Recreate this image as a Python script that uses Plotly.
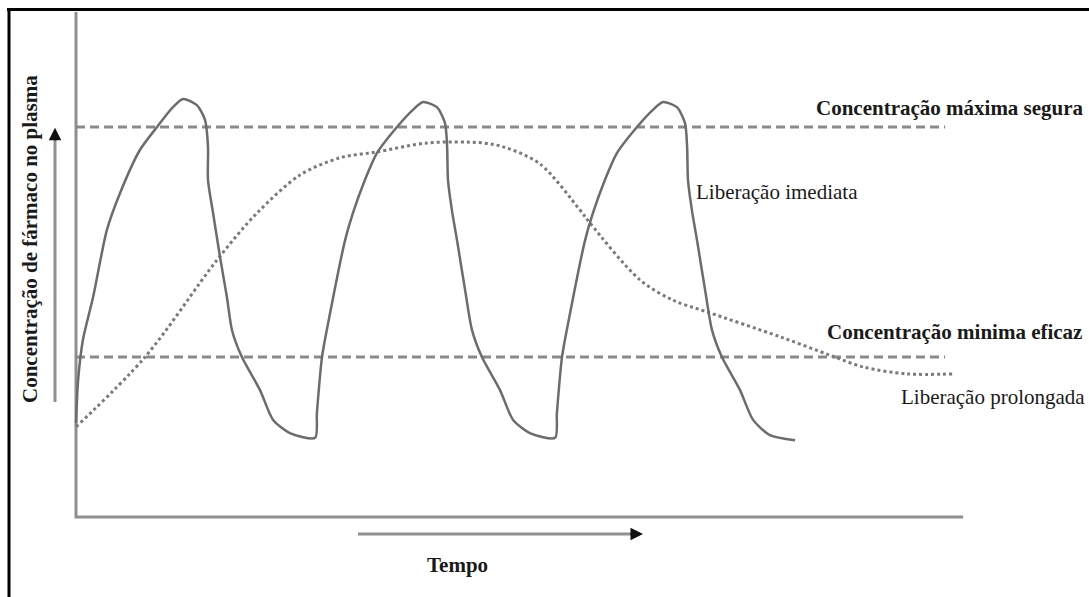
import plotly.graph_objects as go

# ---- Data (time in hours, concentration in arbitrary units) ----
imediata_t = [0, 0.07, 0.23, 0.57, 1.03, 1.47, 2.13, 2.7, 3.23, 3.57, 4.03, 4.3, 4.4, 4.4, 4.57, 4.8, 5.03, 5.2, 5.53, 6.13, 6.57, 7.13, 7.97,
              8.03, 8.2, 8.47, 8.97, 9.23, 9.63, 10.03, 10.7, 11.23, 11.57, 12.03, 12.3, 12.37, 12.4, 12.53, 12.7, 12.97, 13.2, 13.53, 14.13, 14.57, 15.13, 15.97,
              16.03, 16.2, 16.47, 16.97, 17.23, 17.63, 18.03, 18.7, 19.23, 19.57, 20.03, 20.3, 20.37, 20.4, 20.53, 20.7, 20.97, 21.2, 21.53, 22.13, 22.57, 23.13, 23.97]
imediata_c = [24.1, 35.1, 45.4, 56.4, 73.6, 83.1, 94.1, 100.0, 105.1, 107.2, 105.6, 101.8, 94.9, 86.4, 77.9, 66.7, 56.4, 47.9, 41.0, 32.6, 24.9, 21.5, 20.3,
              26.7, 41.0, 52.3, 71.0, 77.9, 86.4, 93.3, 100.0, 104.4, 106.4, 105.1, 101.0, 94.9, 86.4, 78.7, 71.0, 58.2, 47.9, 41.0, 32.6, 24.9, 21.5, 20.3,
              26.7, 41.0, 52.3, 71.0, 77.9, 86.4, 93.3, 100.0, 104.4, 106.4, 105.1, 101.0, 94.9, 86.4, 78.7, 71.0, 58.2, 47.9, 41.0, 32.6, 24.9, 21.0, 19.7]

prolongada_t = [0, 2.3, 4.7, 6.03, 7.47, 8.8, 10.03, 11.7, 13.57, 14.37, 15.47, 16.8, 17.13, 18.8, 19.9, 21.03, 23.47, 25.13, 26.23, 27.7, 29.23]
prolongada_c = [23.1, 41.0, 65.9, 77.9, 87.7, 92.1, 93.6, 95.9, 95.9, 94.6, 90.5, 78.7, 75.4, 60.8, 55.6, 52.6, 46.2, 41.5, 38.5, 36.7, 36.7]

cmax_segura = 100.0
cmin_eficaz = 41.0
ref_t = [0, 28.97]
axis_t_end = 29.57
axis_c_end = 129.5

labels = {
    "max": "Concentração máxima segura",
    "min": "Concentração minima eficaz",
    "imed": "Liberação imediata",
    "prol": "Liberação prolongada",
    "x": "Tempo",
    "y": "Concentração de fármaco no plasma",
}

W, H = 1089, 597
FONT = "Liberation Serif, Times New Roman, serif"
TXT = "#1a1a1a"


def px(x):
    return x / W


def py(y):
    return 1 - y / H


fig = go.Figure()

# axes lines
fig.add_trace(go.Scatter(x=[0, 0, axis_t_end], y=[axis_c_end, 0, 0], mode="lines",
                         line=dict(color="#8f8f8f", width=3), hoverinfo="skip"))
# reference lines
fig.add_trace(go.Scatter(x=ref_t, y=[cmax_segura] * 2, mode="lines",
                         line=dict(color="#8a8a8a", width=3, dash="9px,5px"), hoverinfo="skip"))
fig.add_trace(go.Scatter(x=ref_t, y=[cmin_eficaz] * 2, mode="lines",
                         line=dict(color="#8a8a8a", width=3, dash="9px,5px"), hoverinfo="skip"))
# prolonged release
fig.add_trace(go.Scatter(x=prolongada_t, y=prolongada_c, mode="lines",
                         line=dict(color="#7a7a7a", width=3, dash="3px,3px", shape="spline", smoothing=0.9),
                         hoverinfo="skip"))
# immediate release
fig.add_trace(go.Scatter(x=imediata_t, y=imediata_c, mode="lines",
                         line=dict(color="#6c6c6c", width=2.5, shape="spline", smoothing=0.7),
                         hoverinfo="skip"))

# arrows (shafts)
fig.add_trace(go.Scatter(x=[-0.7, -0.7], y=[29.5, 97.0], mode="lines",
                         line=dict(color="#8f8f8f", width=3), hoverinfo="skip"))
fig.add_trace(go.Scatter(x=[9.4, 18.5], y=[-4.36, -4.36], mode="lines",
                         line=dict(color="#8f8f8f", width=3), hoverinfo="skip"))

annotations = [
    dict(x=-0.7, y=99.8, ax=0, ay=14, xref="x", yref="y", showarrow=True, arrowhead=2,
         arrowsize=1, arrowwidth=2.5, arrowcolor="#111", text=""),
    dict(x=18.9, y=-4.36, ax=-14, ay=0, xref="x", yref="y", showarrow=True, arrowhead=2,
         arrowsize=1, arrowwidth=2.5, arrowcolor="#111", text=""),
    dict(x=px(1086), y=py(108), xref="paper", yref="paper", xanchor="right", yanchor="middle",
         text="<b>" + labels["max"] + "</b>", showarrow=False, font=dict(family=FONT, size=21, color=TXT)),
    dict(x=px(1084), y=py(332), xref="paper", yref="paper", xanchor="right", yanchor="middle",
         text="<b>" + labels["min"] + "</b>", showarrow=False, font=dict(family=FONT, size=21, color=TXT)),
    dict(x=px(694), y=py(192), xref="paper", yref="paper", xanchor="left", yanchor="middle",
         text=labels["imed"], showarrow=False, font=dict(family=FONT, size=21, color=TXT)),
    dict(x=px(1087), y=py(397), xref="paper", yref="paper", xanchor="right", yanchor="middle",
         text=labels["prol"], showarrow=False, font=dict(family=FONT, size=21, color=TXT)),
    dict(x=px(457), y=py(565), xref="paper", yref="paper", xanchor="center", yanchor="middle",
         text="<b>" + labels["x"] + "</b>", showarrow=False, font=dict(family=FONT, size=21, color=TXT)),
    dict(x=px(30), y=py(239), xref="paper", yref="paper", xanchor="center", yanchor="middle",
         text="<b>" + labels["y"] + "</b>", textangle=-90, showarrow=False,
         font=dict(family=FONT, size=21, color=TXT)),
]

shapes = [
    dict(type="line", xref="paper", yref="paper", x0=px(7), x1=1, y0=py(9.5), y1=py(9.5),
         line=dict(color="#000", width=3)),
    dict(type="line", xref="paper", yref="paper", x0=px(9), x1=px(9), y0=0, y1=py(8),
         line=dict(color="#000", width=3)),
]

fig.update_layout(
    width=W, height=H, margin=dict(l=0, r=0, t=0, b=0),
    paper_bgcolor="white", plot_bgcolor="white", showlegend=False,
    xaxis=dict(range=[-76 / 30, (W - 76) / 30], visible=False, fixedrange=True),
    yaxis=dict(range=[(517 - H) / 3.9, 517 / 3.9], visible=False, fixedrange=True),
    annotations=annotations, shapes=shapes,
)

fig.write_html(
    "out.html",
    config={"displayModeBar": False, "staticPlot": True},
    post_script="document.body.style.margin='0';document.body.style.overflow='hidden';",
)
